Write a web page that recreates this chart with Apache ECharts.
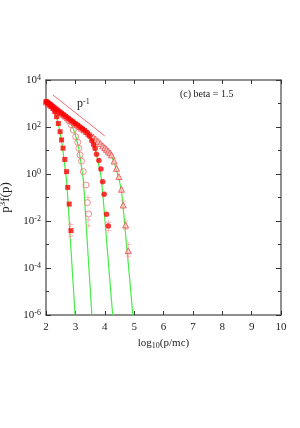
<!DOCTYPE html>
<html>
<head>
<meta charset="utf-8">
<script src="https://cdn.jsdelivr.net/npm/echarts@6/dist/echarts.min.js"></script>
<style>html,body{margin:0;padding:0;background:#fff}#c{width:300px;height:428px}</style>
</head>
<body>
<div id="c"></div>
<script>
// All y values are log10 of p^3 f(p).
// Series (a): filled squares
var sqX = [2.00,2.05,2.10,2.15,2.20,2.25,2.30,2.36,2.42,2.48,2.53,2.58,2.64,2.70,2.74,2.79,2.85];
var sqY = [3.08,3.03,2.99,2.94,2.88,2.79,2.66,2.44,2.15,1.80,1.45,1.10,0.62,0.10,-0.57,-1.28,-2.41];
// Series (b): open circles
var ocX = [2.03,2.09,2.15,2.22,2.29,2.37,2.45,2.53,2.61,2.69,2.77,2.85,2.93,3.01,3.08,3.12,3.16,3.21,3.27,3.36,3.41,3.45];
var ocY = [3.06,3.00,2.94,2.87,2.81,2.73,2.65,2.57,2.48,2.39,2.27,2.10,1.87,1.59,1.35,1.09,0.81,0.55,0.10,-0.47,-1.22,-1.70];
// Series (c): filled circles
var fcX = [2.02,2.08,2.14,2.21,2.28,2.36,2.44,2.52,2.60,2.68,2.76,2.84,2.92,3.00,3.08,3.16,3.24,3.32,3.40,3.48,3.56,3.62,3.67,3.72,3.80,3.87,3.93,3.98,4.06,4.12];
var fcY = [3.06,3.01,2.95,2.88,2.82,2.75,2.67,2.60,2.52,2.45,2.37,2.30,2.22,2.15,2.08,2.00,1.93,1.85,1.76,1.62,1.42,1.25,1.09,0.84,0.57,0.21,-0.33,-0.86,-1.71,-2.21];
// Series (d): open triangles
var trX = [2.01,2.07,2.13,2.19,2.26,2.33,2.41,2.49,2.57,2.65,2.73,2.81,2.89,2.97,3.05,3.13,3.21,3.29,3.37,3.45,3.53,3.61,3.69,3.77,3.85,3.93,4.00,4.06,4.12,4.18,4.23,4.32,4.40,4.48,4.57,4.63,4.71,4.80];
var trY = [3.07,3.01,2.96,2.90,2.84,2.77,2.70,2.62,2.55,2.48,2.40,2.33,2.25,2.18,2.10,2.03,1.95,1.88,1.81,1.73,1.65,1.57,1.48,1.39,1.30,1.20,1.12,1.05,0.97,0.90,0.81,0.55,0.24,-0.11,-0.65,-1.32,-2.17,-3.26];
// Error-bar crosses
var errX = [2.84,2.84,3.43,3.44,3.44,4.12,4.12,4.71,4.71,4.80,4.80,4.63];
var errY = [-2.15,-2.65,-1.00,-1.95,-2.20,-2.05,-2.40,-2.00,-2.35,-3.00,-3.50,-1.15];
// Fit curves (green)
var g1X = [2.00,2.15,2.25,2.33,2.40,2.47,2.53,2.58,2.63,2.67,2.70,2.80,2.90,2.99];
var g1Y = [3.08,2.94,2.78,2.55,2.22,1.82,1.40,0.95,0.45,0.05,-0.26,-2.20,-4.20,-6.00];
var g2X = [2.00,2.40,2.70,2.85,2.95,3.03,3.10,3.16,3.22,3.27,3.40,3.56];
var g2Y = [3.08,2.71,2.42,2.15,1.85,1.52,1.17,0.72,0.20,-0.26,-2.80,-5.97];
var g3X = [2.00,3.30,3.45,3.57,3.66,3.74,3.81,3.89,4.08,4.27];
var g3Y = [3.08,1.87,1.68,1.42,1.10,0.72,0.30,-0.26,-3.10,-6.00];
var g4X = [2.00,3.50,3.77,3.93,4.06,4.18,4.28,4.36,4.44,4.50,4.57,4.64,4.73,4.84,4.955];
var g4Y = [3.08,1.68,1.39,1.20,1.03,0.86,0.62,0.33,-0.02,-0.30,-0.75,-1.60,-2.85,-4.35,-6.00];
// p^-1 guide line
var refX = [2.24,4.00];
var refY = [3.36,1.62];
// axis ticks
var xTicks = [2,3,4,5,6,7,8,9,10];
var yTickExp = [-6,-4,-2,0,2,4];

function pairs(xs, ys){ return xs.map(function(x,i){ return [x, ys[i]]; }); }

var serif = 'Liberation Serif';
var axisCol = '#6b6b6b';
var txt = '#222';
var chart = echarts.init(document.getElementById('c'), null, {renderer:'canvas'});
var greenStyle = {color:'#44ee44', width:1.2};
var plus = 'path://M4,0L6,0L6,4L10,4L10,6L6,6L6,10L4,10L4,6L0,6L0,4L4,4Z';

function lineSeries(xs, ys){
  return {type:'line', data:pairs(xs,ys), showSymbol:false, symbol:'none', smooth:0.3,
          lineStyle:greenStyle, z:2, silent:true, animation:false};
}
function xAx(pos, labels){
  var a = {
    type:'value', min:xTicks[0], max:xTicks[xTicks.length-1], interval:1, position:pos,
    axisLine:{onZero:false, lineStyle:{color:axisCol, width:1.5}},
    axisTick:{inside:true, length:4, lineStyle:{color:'#333'}},
    axisLabel:{show:labels, fontFamily:serif, fontSize:11, color:txt, margin:7},
    splitLine:{show:false}
  };
  if (labels) {
    a.name = '{m|log}{sub|10}{m|(p/mc)}';
    a.nameLocation = 'middle'; a.nameGap = 20;
    a.nameTextStyle = {rich:{
      m:{fontFamily:serif, fontSize:11, lineHeight:12, verticalAlign:'top', color:txt},
      sub:{fontFamily:serif, fontSize:8, lineHeight:12, verticalAlign:'bottom', color:txt}}};
  }
  return a;
}
function yAx(pos, labels){
  var a = {
    type:'value', min:yTickExp[0], max:yTickExp[yTickExp.length-1], interval:2, position:pos,
    axisLine:{onZero:false, lineStyle:{color:axisCol, width:1.5}},
    axisTick:{inside:true, length:5, lineStyle:{color:'#333'}},
    minorTick:{show:true, splitNumber:2, length:3, lineStyle:{color:'#333'}},
    axisLabel:{show:labels, margin:5,
      formatter:function(v){ return '{b|10}{s|' + v + '}'; },
      rich:{b:{fontFamily:serif, fontSize:11, lineHeight:12, verticalAlign:'bottom', color:txt},
            s:{fontFamily:serif, fontSize:8, lineHeight:12, verticalAlign:'top', color:txt}}},
    splitLine:{show:false}
  };
  if (labels) {
    a.name = '{m|p}{sup|3}{m|f(p)}';
    a.nameLocation = 'middle'; a.nameRotate = 90; a.nameGap = 26;
    a.nameTextStyle = {rich:{
      m:{fontFamily:serif, fontSize:13, lineHeight:14, verticalAlign:'bottom', color:txt},
      sup:{fontFamily:serif, fontSize:9, lineHeight:14, verticalAlign:'top', color:txt}}};
  }
  return a;
}

chart.setOption({
  animation:false,
  grid:{left:46, right:19, top:80, bottom:113, containLabel:false, outerBoundsMode:'none'},
  xAxis:[xAx('bottom', true), xAx('top', false)],
  yAxis:[yAx('left', true), yAx('right', false)],
  series:[
    lineSeries(g1X,g1Y), lineSeries(g2X,g2Y), lineSeries(g3X,g3Y), lineSeries(g4X,g4Y),
    {type:'line', data:pairs(refX,refY), symbol:'none', lineStyle:{color:'#f06a6a', width:1}, z:3, silent:true},
    {type:'scatter', data:pairs(errX,errY), symbol:plus, symbolSize:5, itemStyle:{color:'#f5a3a3'}, z:4, silent:true},
    {type:'scatter', data:pairs(trX,trY), symbol:'triangle', symbolSize:6,
      itemStyle:{color:'#fbc4c4', borderColor:'#ee3a3a', borderWidth:0.9}, z:5, silent:true},
    {type:'scatter', data:pairs(ocX,ocY), symbol:'circle', symbolSize:6,
      itemStyle:{color:'rgba(255,255,255,0)', borderColor:'#f07070', borderWidth:1}, z:6, silent:true},
    {type:'scatter', data:pairs(fcX,fcY), symbol:'circle', symbolSize:5.5,
      itemStyle:{color:'#ff0000'}, z:7, silent:true},
    {type:'scatter', data:pairs(sqX,sqY), symbol:'rect', symbolSize:5,
      itemStyle:{color:'#ff0000'}, z:8, silent:true}
  ],
  graphic:[
    {type:'text', left:77, top:98, style:{text:'{m|p}{s|-1}',
      rich:{m:{fontFamily:serif, fontSize:12, lineHeight:12, verticalAlign:'bottom', fill:txt},
            s:{fontFamily:serif, fontSize:8, lineHeight:12, verticalAlign:'top', fill:txt}}}},
    {type:'text', left:180, top:89, style:{text:'(c) beta = 1.5', font:'10px "Liberation Serif"', fill:txt}}
  ]
});
</script>
</body>
</html>
